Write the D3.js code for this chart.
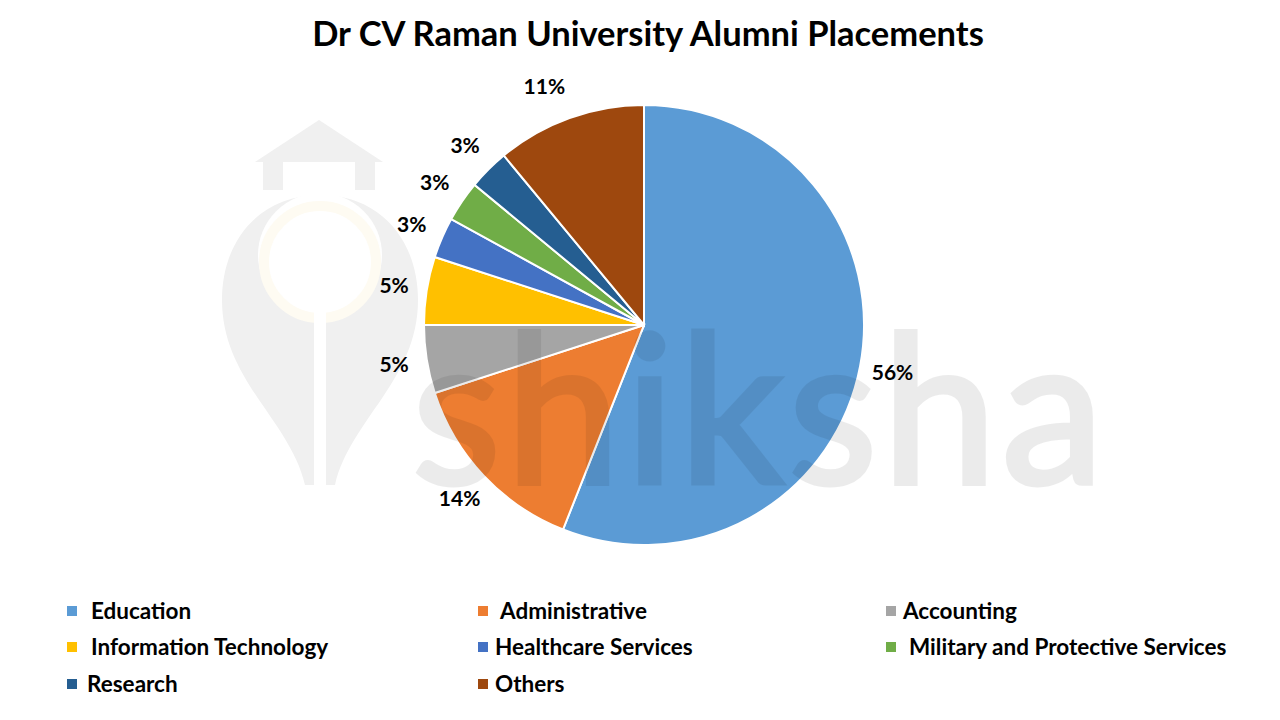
<!DOCTYPE html>
<html>
<head>
<meta charset="utf-8">
<script src="https://cdn.jsdelivr.net/npm/d3@7"></script>
<style>
  body { margin: 0; background: #fff; }
  text { font-family: Lato, "Open Sans", sans-serif; font-weight: bold; }
</style>
</head>
<body>
<div id="chart"></div>
<script>
// data
var categories = ["Education", "Administrative", "Accounting", "Information Technology",
                  "Healthcare Services", "Military and Protective Services", "Research", "Others"];
var shares = [56, 14, 5, 5, 3, 3, 3, 11];
var colors = ["#5B9BD5", "#ED7D31", "#A5A5A5", "#FFC000", "#4472C4", "#70AD47", "#255E91", "#9E480E"];

var width = 1280, height = 720;
var cx = 644, cy = 325, radius = 220;

var svg = d3.select("#chart").append("svg")
    .attr("width", width)
    .attr("height", height);

// title
svg.append("text")
    .attr("x", 648)
    .attr("y", 46)
    .attr("text-anchor", "middle")
    .style("font-size", "34.5px")
    .text("Dr CV Raman University Alumni Placements");

// faint logo behind everything
var logo = svg.append("g").attr("fill", "#f0f0f0");
logo.append("path").attr("d", "M255,162 L319,120 L383,162 L375,162 L375,190 L355,190 L355,162 L283,162 L283,190 L263,190 L263,162 Z");
logo.append("path")
    .attr("d", "M320,195 C260,195 222,240 222,300 C222,380 290,420 305,485 L335,485 C350,420 418,380 418,300 C418,240 380,195 320,195 Z");
logo.append("circle").attr("cx", 320).attr("cy", 255).attr("r", 62).attr("fill", "#fff");
logo.append("circle").attr("cx", 320).attr("cy", 262).attr("r", 56).attr("fill", "none")
    .attr("stroke", "#fefbf2").attr("stroke-width", 10);
logo.append("rect").attr("x", 314).attr("y", 300).attr("width", 12).attr("height", 185).attr("fill", "#fff");

var pie = d3.pie().sort(null).value(function(d) { return d; });
var arc = d3.arc().innerRadius(0).outerRadius(radius);
var labelArc = d3.arc().innerRadius(radius + 33).outerRadius(radius + 33);

var g = svg.append("g").attr("transform", "translate(" + cx + "," + cy + ")");

g.selectAll(".slice")
  .data(pie(shares))
  .enter()
  .append("path")
    .attr("class", "slice")
    .attr("d", arc)
    .attr("fill", function(d, i) { return colors[i]; })
    .attr("stroke", "#fff")
    .attr("stroke-width", 2);

g.selectAll(".lbl")
  .data(pie(shares))
  .enter()
  .append("text")
    .attr("class", "lbl")
    .attr("transform", function(d, i) {
      var c = labelArc.centroid(d);
      // excel nudges the last label a little to the left
      if (i == shares.length - 1) c[0] -= 14;
      return "translate(" + c + ")";
    })
    .attr("text-anchor", "middle")
    .attr("dy", "0.35em")
    .style("font-size", "21px")
    .text(function(d) { return d.data + "%"; });

// watermark text over the chart
svg.append("g")
    .attr("opacity", 0.075)
  .append("text")
    .attr("x", 412)
    .attr("y", 483)
    .style("font-size", "205px")
    .style("font-weight", "normal")
    .style("letter-spacing", "5px")
    .attr("fill", "#000")
    .attr("stroke", "#000")
    .attr("stroke-width", 5)
    .text("shiksha");

// legend
var legendX = [67, 478, 886];
var legendY = [611, 647, 684];
var textOffset = [24, 22, 17, 24, 17, 23, 20, 17];
var legend = svg.selectAll(".legend")
  .data(categories)
  .enter()
  .append("g")
    .attr("class", "legend")
    .attr("transform", function(d, i) {
      return "translate(" + legendX[i % 3] + "," + legendY[Math.floor(i / 3)] + ")";
    });

legend.append("rect")
    .attr("x", 0)
    .attr("y", -5)
    .attr("width", 10)
    .attr("height", 10)
    .attr("fill", function(d, i) { return colors[i]; });

legend.append("text")
    .attr("x", function(d, i) { return textOffset[i]; })
    .attr("dy", "0.36em")
    .style("font-size", "22.5px")
    .text(function(d) { return d; });
</script>
</body>
</html>
